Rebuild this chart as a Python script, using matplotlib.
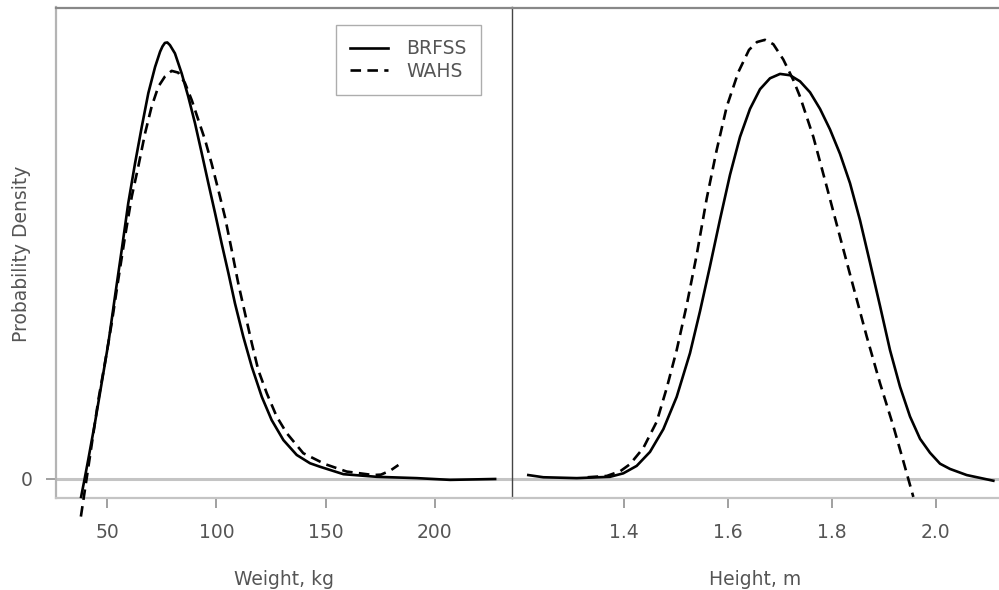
import matplotlib
matplotlib.use("Agg")
import matplotlib.pyplot as plt

# ---- data (relative probability density) ----
w_brfss_x = [38.0, 39.6, 41.3, 44.4, 47.4, 50.5, 53.5, 56.6, 59.6, 62.7, 65.8, 68.8, 71.9, 74.2,
             75.3, 76.4, 77.5, 78.7, 81.0, 84.1, 87.1, 90.2, 93.3, 96.3, 99.4, 102.4, 105.5,
             108.5, 112.3, 116.2, 120.8, 125.3, 130.7, 136.8, 142.9, 147.5, 158.2, 173.5, 191.8,
             207.1, 227.7]
w_brfss_y = [-0.041, 0.000, 0.045, 0.130, 0.219, 0.311, 0.417, 0.524, 0.631, 0.722, 0.806, 0.883,
             0.943, 0.978, 0.990, 0.998, 0.999, 0.993, 0.974, 0.928, 0.875, 0.814, 0.745, 0.677,
             0.608, 0.539, 0.471, 0.402, 0.326, 0.257, 0.188, 0.135, 0.089, 0.055, 0.036, 0.028,
             0.011, 0.005, 0.002, -0.002, 0.000]

w_wahs_x = [37.9, 40.8, 42.9, 45.9, 48.9, 52.0, 55.0, 58.1, 61.2, 64.2, 67.3, 70.3, 73.4, 76.4,
            79.5, 82.5, 85.6, 88.7, 91.7, 94.8, 97.8, 100.9, 103.9, 107.0, 110.0, 113.1, 116.2,
            119.2, 123.1, 127.6, 132.2, 139.8, 149.8, 159.7, 171.9, 175.4, 179.6, 183.4]
w_wahs_y = [-0.086, 0.010, 0.080, 0.181, 0.265, 0.356, 0.455, 0.554, 0.646, 0.715, 0.791, 0.852,
            0.898, 0.921, 0.934, 0.930, 0.906, 0.867, 0.822, 0.776, 0.722, 0.661, 0.600, 0.524,
            0.448, 0.379, 0.311, 0.249, 0.196, 0.143, 0.105, 0.059, 0.034, 0.017, 0.009, 0.010,
            0.019, 0.032]

h_brfss_x = [1.2158, 1.2447, 1.3090, 1.3730, 1.3987, 1.4244, 1.4500, 1.4757, 1.5014, 1.5270,
             1.5463, 1.5655, 1.5848, 1.6040, 1.6233, 1.6425, 1.6618, 1.6810, 1.7003, 1.7195,
             1.7388, 1.7580, 1.7773, 1.7965, 1.8158, 1.8350, 1.8543, 1.8735, 1.8928, 1.9120,
             1.9313, 1.9505, 1.9698, 1.9890, 2.0083, 2.0275, 2.0597, 2.1109]
h_brfss_y = [0.009, 0.004, 0.002, 0.005, 0.013, 0.030, 0.062, 0.114, 0.188, 0.288,
             0.384, 0.487, 0.594, 0.696, 0.783, 0.847, 0.892, 0.917, 0.927, 0.924,
             0.910, 0.885, 0.847, 0.800, 0.744, 0.677, 0.592, 0.495, 0.396, 0.295,
             0.211, 0.143, 0.092, 0.060, 0.035, 0.023, 0.009, -0.004]

h_wahs_x = [1.330, 1.367, 1.3930, 1.4116, 1.4372, 1.4629, 1.4822, 1.5014, 1.5207, 1.5399, 1.5592,
            1.5784, 1.5977, 1.6200, 1.6406, 1.6560, 1.6714, 1.6874, 1.7066, 1.7259, 1.7388,
            1.7644, 1.7902, 1.8158, 1.8414, 1.8672, 1.8928, 1.9184, 1.9376, 1.9569]
h_wahs_y = [0.004, 0.007, 0.018, 0.034, 0.071, 0.131, 0.208, 0.295, 0.398, 0.513, 0.642,
            0.753, 0.852, 0.931, 0.982, 1.000, 1.005, 0.995, 0.960, 0.913, 0.875,
            0.783, 0.669, 0.554, 0.440, 0.326, 0.219, 0.121, 0.041, -0.041]

w_ticks = [50, 100, 150, 200]
h_ticks = [1.4, 1.6, 1.8, 2.0]
h_tick_labels = ["1.4", "1.6", "1.8", "2.0"]
series_names = ["BRFSS", "WAHS"]

# ---- figure ----
W, H = 999, 590
plt.rcParams['font.family'] = ['DejaVu Sans']
fig = plt.figure(figsize=(W / 100, H / 100), dpi=100)

def fx(px):
    return px / W

def fy(py):
    return 1 - py / H

top_px, bot_px = 7.5, 497.7
axL = fig.add_axes([fx(56), fy(bot_px), fx(511.7 - 56), (bot_px - top_px) / H])
axR = fig.add_axes([fx(512), fy(bot_px), fx(999 - 512), (bot_px - top_px) / H], sharey=axL)

txt_col = '#555555'
fs = 13.5
lw = 1.9
dash = (4, 2.4)

for ax in (axL, axR):
    ax.axhline(0, color='#c4c4c4', lw=2.2, zorder=1)
    for s in ax.spines.values():
        s.set_linewidth(1.6)
    ax.spines['top'].set_color('#888888')
    ax.spines['bottom'].set_color('#c4c4c4')
    ax.spines['right'].set_visible(False)
    ax.tick_params(axis='both', colors='#999999', labelcolor=txt_col, labelsize=fs,
                   length=7.5, width=1.3, direction='out', pad=11)
    ax.set_facecolor('white')

axL.tick_params(axis='y', pad=9)
axL.spines['left'].set_color('#b4b4b4')
axR.spines['left'].set_color('#444444')
axR.spines['left'].set_linewidth(1.0)

l1, = axL.plot(w_brfss_x, w_brfss_y, color='black', lw=lw, zorder=3, clip_on=False,
               solid_joinstyle='round')
l2, = axL.plot(w_wahs_x, w_wahs_y, color='black', lw=lw, dashes=dash, zorder=3, clip_on=False,
               dash_joinstyle='round')
axR.plot(h_brfss_x, h_brfss_y, color='black', lw=lw, zorder=3, clip_on=False,
         solid_joinstyle='round')
axR.plot(h_wahs_x, h_wahs_y, color='black', lw=lw, dashes=dash, zorder=3, clip_on=False,
         dash_joinstyle='round')

axL.set_xlim(26.5, 235.3)
axR.set_xlim(1.1844, 2.1218)
axL.set_ylim(-0.0428, 1.079)

axL.set_xticks(w_ticks)
axR.set_xticks(h_ticks)
axR.set_xticklabels(h_tick_labels)
axL.set_yticks([0])
axL.set_yticklabels(["0"])
axR.tick_params(axis='y', left=False, labelleft=False)

axL.set_xlabel("Weight, kg", color=txt_col, fontsize=fs, labelpad=20)
axR.set_xlabel("Height, m", color=txt_col, fontsize=fs, labelpad=20)
axL.set_ylabel("Probability Density", color=txt_col, fontsize=fs, va='center')
axL.yaxis.set_label_coords((21.7 - 56) / 455.7, 1 - (254 - 7.5) / 490.2)

leg = axL.legend([l1, l2], series_names, loc='upper left', bbox_to_anchor=(0.6144, 0.9643),
                 borderaxespad=0, frameon=True, fancybox=False, fontsize=fs,
                 handlelength=2.0, handletextpad=1.0, labelspacing=0.2,
                 borderpad=0.75, labelcolor=txt_col)
leg.get_frame().set_edgecolor('#999999')
leg.get_frame().set_linewidth(1.0)

fig.savefig("out.png", dpi=100)
